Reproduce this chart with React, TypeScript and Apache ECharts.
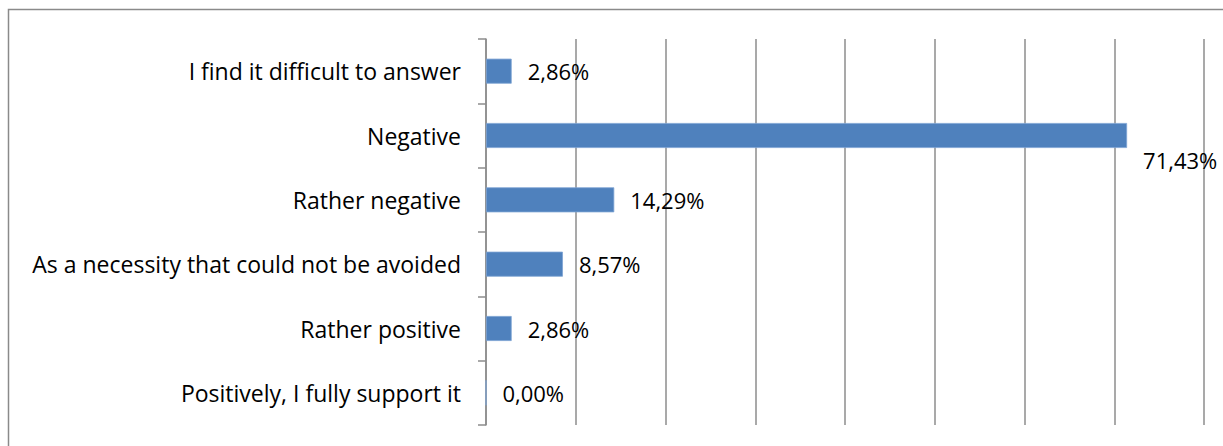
import React, { useEffect, useRef } from "react";
import * as echarts from "echarts";

const categories = [
  "Positively, I fully support it",
  "Rather positive",
  "As a necessity that could not be avoided",
  "Rather negative",
  "Negative",
  "I find it difficult to answer",
];
const values = [0.0, 2.86, 8.57, 14.29, 71.43, 2.86];
const axisMax = 80;
const axisInterval = 10;

const FONT = "Open Sans";

export default function App() {
  const ref = useRef<HTMLDivElement>(null);
  useEffect(() => {
    const chart = echarts.init(ref.current!, null, { renderer: "svg" });
    chart.setOption({
      animation: false,
      backgroundColor: "#ffffff",
      textStyle: { fontFamily: FONT },
      graphic: [
        {
          type: "rect",
          shape: { x: 8.5, y: 9.5, width: 1400, height: 600 },
          style: { fill: "none", stroke: "#8a8a8a", lineWidth: 1.5 },
          silent: true,
        },
      ],
      grid: { left: 486, right: 19, top: 39, bottom: 21, containLabel: false },
      xAxis: {
        type: "value",
        min: 0,
        max: axisMax,
        interval: axisInterval,
        axisLabel: { show: false },
        axisLine: { show: false },
        axisTick: { show: false },
        splitLine: { show: true, lineStyle: { color: "#8c8c8c", width: 1.5 } },
      },
      yAxis: {
        type: "category",
        data: categories,
        axisLine: { show: true, lineStyle: { color: "#8c8c8c", width: 1.5 } },
        axisTick: { show: true, length: 8, lineStyle: { color: "#8c8c8c", width: 1.5 } },
        axisLabel: {
          color: "#000000",
          fontFamily: FONT,
          fontSize: 23,
          margin: 25,
        },
      },
      series: [
        {
          type: "bar",
          barWidth: 25,
          data: values.map((v, i) =>
            i === 4
              ? { value: v, label: { offset: [0, 24] } }
              : { value: v }
          ),
          itemStyle: { color: "#4f81bd", borderColor: "#7ea3d3", borderWidth: 0.8 },
          label: {
            show: true,
            position: "right",
            distance: 16,
            color: "#000000",
            fontFamily: FONT,
            fontSize: 22,
            formatter: (p: any) => p.value.toFixed(2).replace(".", ",") + "%",
          },
        },
      ],
    });
    return () => chart.dispose();
  }, []);
  return (
    <div
      ref={ref}
      style={{ position: "fixed", left: 0, top: 0, width: 1223, height: 446 }}
    />
  );
}
